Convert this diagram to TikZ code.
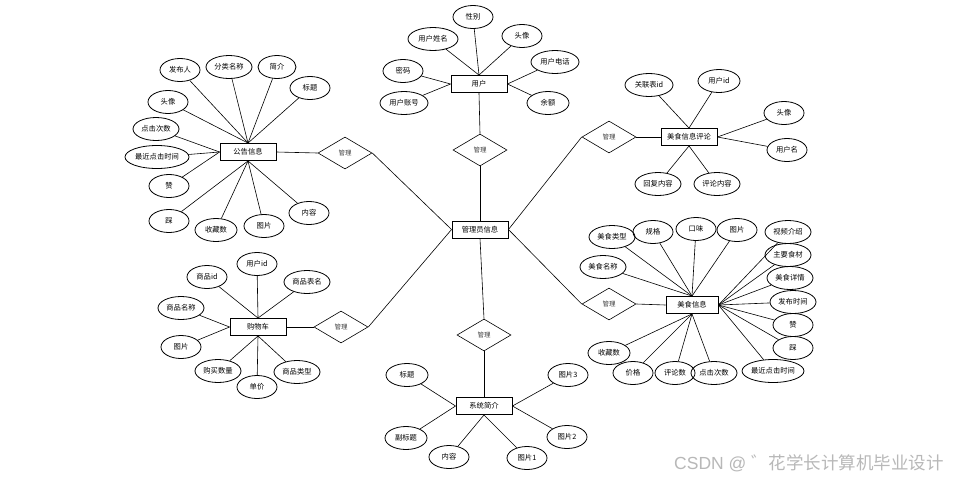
\documentclass[tikz,border=0pt]{standalone}
\usepackage{fontspec}
\newfontfamily\cjk{Noto Sans CJK SC}
\newfontfamily\lsans{Liberation Sans}
\usetikzlibrary{shapes.geometric}
\begin{document}
\begin{tikzpicture}[x=1pt,y=-1pt,
 ent/.style={draw,line width=0.9pt,minimum width=56pt,minimum height=17pt,inner sep=0pt,font=\cjk\fontsize{7.3}{8}\selectfont},
 attr/.style={draw,ellipse,line width=0.8pt,minimum height=23pt,minimum width=40pt,inner sep=0pt,font=\cjk\fontsize{7.3}{8}\selectfont},
 rel/.style={draw,diamond,line width=0.6pt,minimum width=54pt,minimum height=32pt,inner sep=0pt,font=\cjk\fontsize{6.5}{8}\selectfont,text=black!75},
 ln/.style={line width=0.6pt}]
\useasboundingbox[fill=white] (0,0) rectangle (956,480);

% ---------------- entities and relations
\node[ent] (adm) at (480,229.5) {管理员信息};
\node[ent] (u) at (479,84) {用户};
\node[rel] (ud) at (480,150) {管理};
\node[ent] (gg) at (248,152) {公告信息};
\node[rel] (gd) at (345,153) {管理};
\node[ent] (gw) at (258,327) {购物车};
\node[rel] (gwd) at (341,327) {管理};
\node[ent] (pl) at (689,137) {美食信息评论};
\node[rel] (pld) at (609,137) {管理};
\node[ent,minimum width=52pt] (ms) at (692,305) {美食信息};
\node[rel] (msd) at (609,304) {管理};
\node[ent] (xt) at (484,406) {系统简介};
\node[rel] (xtd) at (484,335) {管理};

% ---------------- 用户 attributes
\node[attr] (u1) at (473,17) {性别};
\node[attr,minimum width=50pt] (u2) at (433,39) {用户姓名};
\node[attr] (u3) at (522,36) {头像};
\node[attr,minimum width=48pt] (u4) at (555,62) {用户电话};
\node[attr,minimum width=42pt] (u5) at (548,103) {余额};
\node[attr] (u6) at (403,71) {密码};
\node[attr,minimum width=48pt] (u7) at (404,103) {用户账号};

% ---------------- 公告信息 attributes
\node[attr] (g1) at (180,70) {发布人};
\node[attr,minimum width=46pt] (g2) at (229,67) {分类名称};
\node[attr,minimum width=38pt] (g3) at (277,67) {简介};
\node[attr] (g4) at (310,88) {标题};
\node[attr] (g5) at (168,102) {头像};
\node[attr,minimum width=46pt] (g6) at (156,129) {点击次数};
\node[attr,minimum width=64pt] (g7) at (157,157) {最近点击时间};
\node[attr] (g8) at (169,186) {赞};
\node[attr] (g9) at (169,221) {踩};
\node[attr,minimum width=42pt] (g10) at (216,230) {收藏数};
\node[attr] (g11) at (264,226) {图片};
\node[attr] (g12) at (309,213) {内容};

% ---------------- 购物车 attributes
\node[attr] (w1) at (207,277) {商品id};
\node[attr] (w2) at (257,264) {用户id};
\node[attr,minimum width=46pt] (w3) at (307,282) {商品表名};
\node[attr,minimum width=46pt] (w4) at (181,308) {商品名称};
\node[attr] (w5) at (181,347) {图片};
\node[attr,minimum width=46pt] (w6) at (218,371) {购买数量};
\node[attr] (w7) at (257,387) {单价};
\node[attr,minimum width=46pt] (w8) at (297,372) {商品类型};

% ---------------- 美食信息评论 attributes
\node[attr,minimum width=48pt] (p1) at (649,85) {关联表id};
\node[attr,minimum width=42pt] (p2) at (719,81) {用户id};
\node[attr] (p3) at (784,113) {头像};
\node[attr] (p4) at (787,150) {用户名};
\node[attr,minimum width=46pt] (p5) at (658,184) {回复内容};
\node[attr,minimum width=46pt] (p6) at (717,184) {评论内容};

% ---------------- 美食信息 attributes
\node[attr,minimum width=46pt] (m1) at (612,237) {美食类型};
\node[attr] (m2) at (653,232) {规格};
\node[attr] (m3) at (696,229) {口味};
\node[attr] (m4) at (737,230) {图片};
\node[attr,minimum width=46pt] (m5) at (788,232) {视频介绍};
\node[attr,minimum width=46pt] (m6) at (788,255) {主要食材};
\node[attr,minimum width=46pt] (m7) at (790,278) {美食详情};
\node[attr,minimum width=46pt] (m8) at (793,302) {发布时间};
\node[attr] (m9) at (793,325) {赞};
\node[attr] (m10) at (793,348) {踩};
\node[attr,minimum width=58pt] (m11) at (773,371) {最近点击时间};
\node[attr,minimum width=46pt] (m12) at (714,373) {点击次数};
\node[attr] (m13) at (675,373) {评论数};
\node[attr] (m14) at (633,373) {价格};
\node[attr,minimum width=42pt] (m15) at (609,353) {收藏数};
\node[attr,minimum width=46pt] (m16) at (603,267) {美食名称};

% ---------------- 系统简介 attributes
\node[attr,minimum width=42pt] (x1) at (407,375) {标题};
\node[attr,minimum width=42pt] (x2) at (406,438) {副标题};
\node[attr] (x3) at (449,457) {内容};
\node[attr] (x4) at (527,458) {图片1};
\node[attr] (x5) at (567,437) {图片2};
\node[attr] (x6) at (568,375) {图片3};

% ---------------- connectors
\begin{scope}[ln]
\draw (u.south) -- (ud.north);
\draw (ud.south) -- (adm.north);
\draw (gd.east) -- (adm.west);
\draw (gwd.east) -- (adm.west);
\draw (pld.west) -- (adm.east);
\draw (msd.west) -- (adm.east);
\draw (adm.south) -- (xtd.north);
\draw (xtd.south) -- (xt.north);
\draw (gg.east) -- (gd.west);
\draw (gw.east) -- (gwd.west);
\draw (pld.east) -- (pl.west);
\draw (msd.east) -- (ms.west);

\foreach \a in {u1,u2,u3} \draw (u.north) -- (\a);
\foreach \a in {u6,u7} \draw (u.west) -- (\a);
\foreach \a in {u4,u5} \draw (u.east) -- (\a);

\foreach \a in {g1,g2,g3,g4,g5} \draw (gg.north) -- (\a);
\foreach \a in {g6,g7,g8} \draw (gg.west) -- (\a);
\foreach \a in {g9,g10,g11,g12} \draw (gg.south) -- (\a);

\foreach \a in {w1,w2,w3} \draw (gw.north) -- (\a);
\foreach \a in {w4,w5} \draw (gw.west) -- (\a);
\foreach \a in {w6,w7,w8} \draw (gw.south) -- (\a);

\foreach \a in {p1,p2} \draw (pl.north) -- (\a);
\foreach \a in {p3,p4} \draw (pl.east) -- (\a);
\foreach \a in {p5,p6} \draw (pl.south) -- (\a);

\foreach \a in {m1,m2,m3,m4,m16} \draw (ms.north) -- (\a);
\foreach \a in {m5,m6,m7,m8,m9,m10,m11} \draw (ms.east) -- (\a);
\foreach \a in {m12,m13,m14,m15} \draw (ms.south) -- (\a);

\foreach \a in {x1,x2} \draw (xt.west) -- (\a);
\foreach \a in {x3,x4} \draw (xt.south) -- (\a);
\foreach \a in {x5,x6} \draw (xt.east) -- (\a);
\end{scope}

\node[anchor=east,text=black!28,font=\cjk\fontsize{17.5}{19}\selectfont,inner sep=0pt] (wm) at (944,463) {{\lsans CSDN @ }゛花学长计算机毕业设计};
\end{tikzpicture}
\end{document}
